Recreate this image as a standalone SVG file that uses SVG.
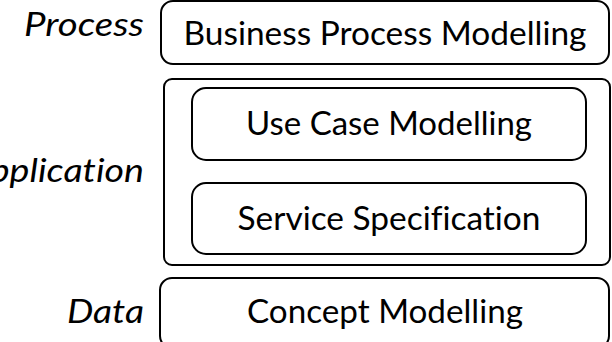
<svg xmlns="http://www.w3.org/2000/svg" width="612" height="342" viewBox="0 0 612 342">
<style>
.box{fill:#fff;stroke:#000;stroke-width:2}
.t{font-family:Lato,"Liberation Sans",sans-serif;font-size:33px;fill:#000;text-anchor:middle;font-variant-ligatures:none}
.lbl{font-family:Lato,"Liberation Sans",sans-serif;font-size:33px;font-style:italic;fill:#000;text-anchor:end;font-variant-ligatures:none}
</style>
<rect width="612" height="342" fill="#fff"/>
<g id="process-label"><text class="lbl" x="144" y="36" textLength="120" lengthAdjust="spacingAndGlyphs">Process</text></g>
<g id="business-process-modelling">
<rect class="box" x="161" y="1" width="448" height="63" rx="12"/>
<text class="t" x="385" y="45" textLength="403" lengthAdjust="spacingAndGlyphs">Business Process Modelling</text>
</g>
<g id="application-label"><text class="lbl" x="144" y="182" textLength="178" lengthAdjust="spacingAndGlyphs">Application</text></g>
<g id="application">
<rect class="box" x="164" y="79" width="446" height="186" rx="8"/>
</g>
<g id="use-case-modelling">
<rect class="box" x="192" y="88" width="394" height="72" rx="14"/>
<text class="t" x="389" y="135" textLength="286" lengthAdjust="spacingAndGlyphs">Use Case Modelling</text>
</g>
<g id="service-specification">
<rect class="box" x="192" y="183" width="394" height="71" rx="14"/>
<text class="t" x="389" y="230" textLength="303" lengthAdjust="spacingAndGlyphs">Service Specification</text>
</g>
<g id="data-label"><text class="lbl" x="144" y="323" textLength="77" lengthAdjust="spacingAndGlyphs">Data</text></g>
<g id="concept-modelling">
<rect class="box" x="160" y="278" width="449" height="70" rx="12"/>
<text class="t" x="385" y="323" textLength="276" lengthAdjust="spacingAndGlyphs">Concept Modelling</text>
</g>
<g id="connectors"></g>
</svg>
